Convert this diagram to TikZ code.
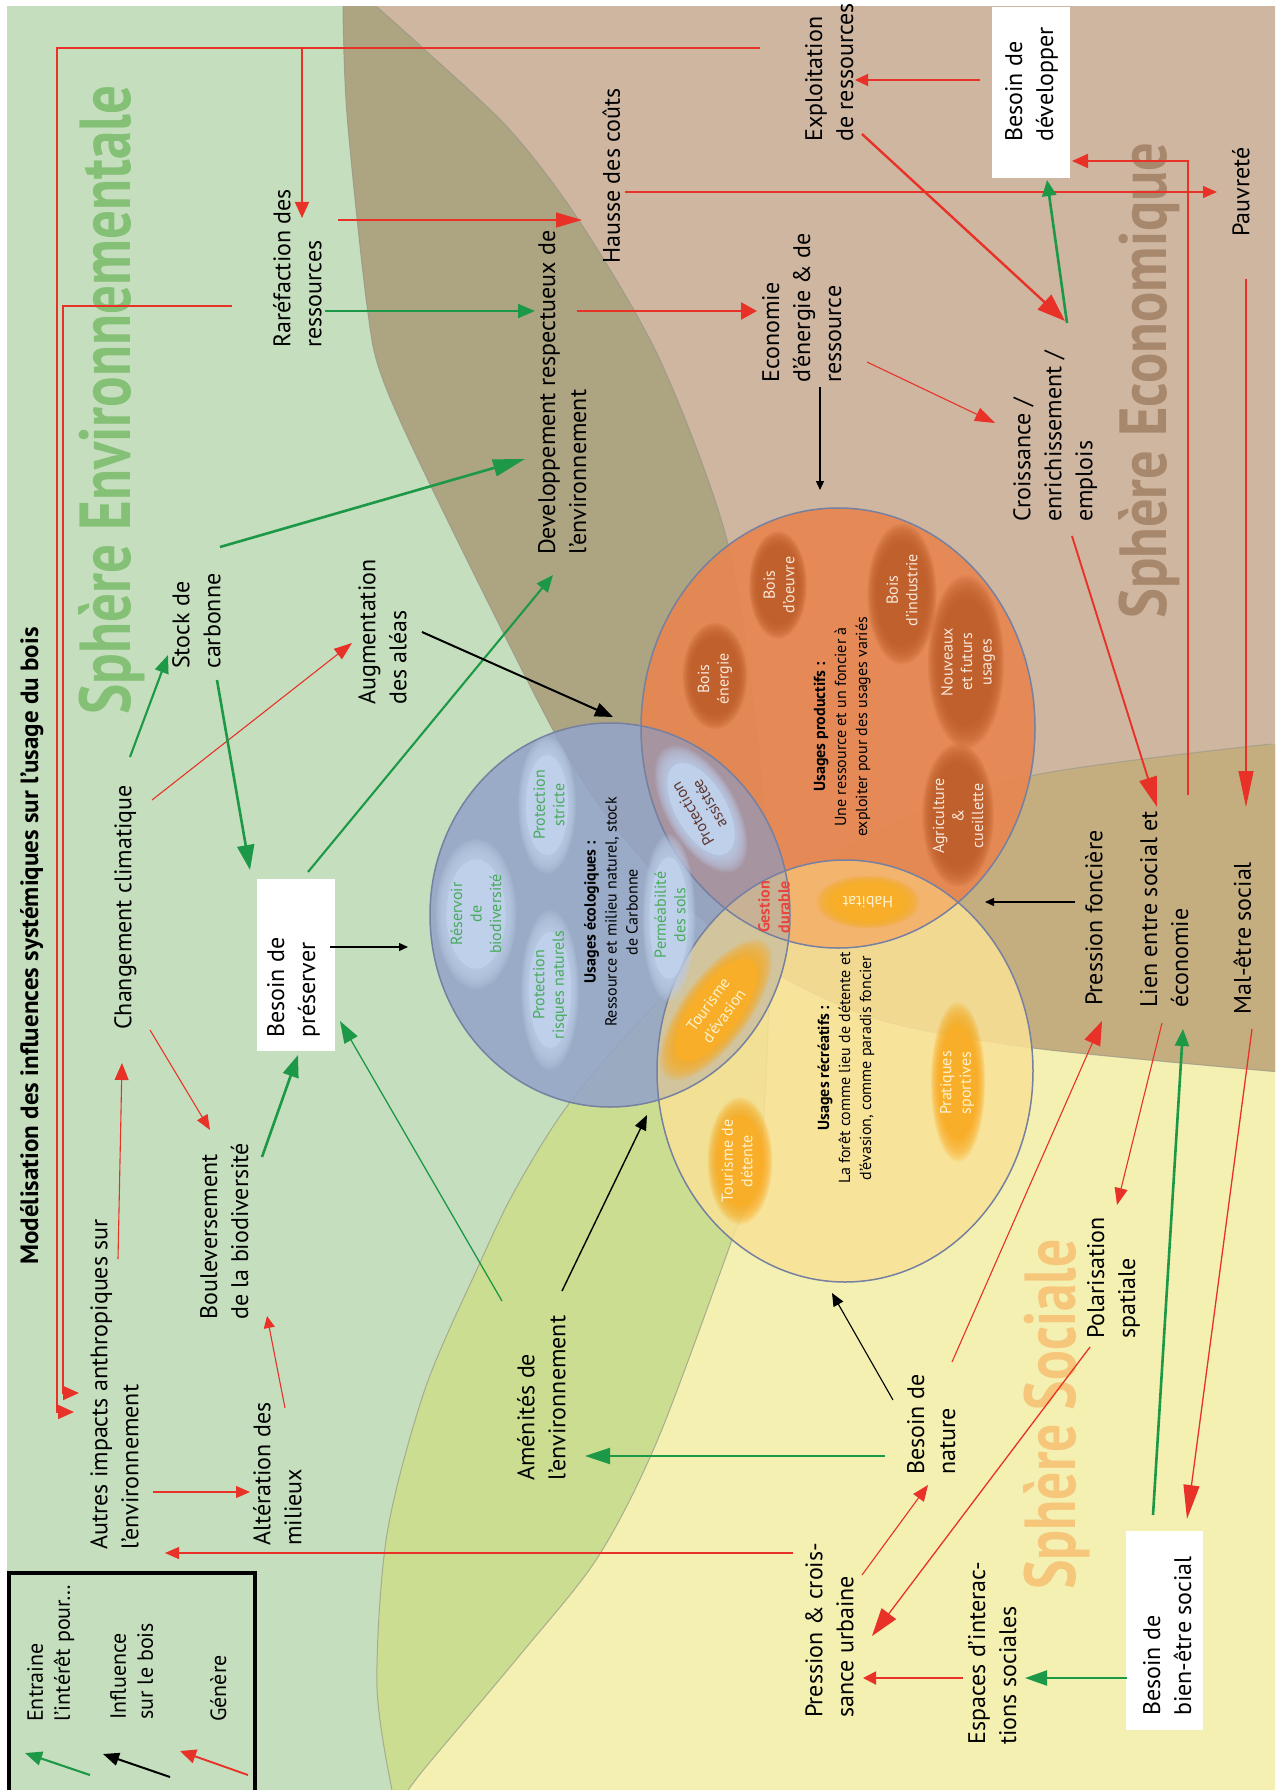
\documentclass[tikz,border=0pt]{standalone}
\usepackage{fontspec}
\usepackage{graphicx}
\setmainfont{PT Sans}
\usetikzlibrary{arrows.meta}
\definecolor{envC}{RGB}{197,223,190}
\definecolor{ecoC}{RGB}{206,182,160}
\definecolor{socC}{RGB}{243,240,178}
\definecolor{envEco}{RGB}{173,164,130}
\definecolor{envSoc}{RGB}{203,221,144}
\definecolor{ecoSoc}{RGB}{196,174,128}
\definecolor{triC}{RGB}{178,166,120}
\definecolor{bndC}{RGB}{150,150,135}
\definecolor{blueC}{RGB}{148,164,200}
\definecolor{orangeC}{RGB}{232,134,80}
\definecolor{yellowC}{RGB}{250,225,150}
\definecolor{lensBO}{RGB}{163,150,168}
\definecolor{lensBY}{RGB}{208,194,156}
\definecolor{lensOY}{RGB}{243,178,108}
\definecolor{lensBOY}{RGB}{200,178,150}
\definecolor{circEdge}{RGB}{118,128,160}
\definecolor{bblob}{RGB}{190,208,234}
\definecolor{oblob}{RGB}{192,96,44}
\definecolor{yblob}{RGB}{248,174,40}
\definecolor{greenT}{RGB}{72,170,92}
\definecolor{redC}{RGB}{232,50,40}
\definecolor{greenC}{RGB}{28,152,70}
\definecolor{envT}{RGB}{132,192,118}
\definecolor{ecoT}{RGB}{168,136,108}
\definecolor{socT}{RGB}{246,198,122}
\definecolor{oTxt}{RGB}{250,232,218}
\definecolor{yTxt}{RGB}{255,242,205}
\definecolor{paTxt}{RGB}{96,56,48}
\definecolor{gestT}{RGB}{232,70,60}

\newcommand\envpath{(-5,-5) -- (372,-5) -- plot[smooth] coordinates {(377,7) (425,50) (510,130) (580,222) (660,360) (727,540) (757,733) (770,930) (760,1160) (732,1240) (658,1439) (598,1557) (520,1655) (425,1768) (405,1795)} -- (-5,1800) -- cycle}
\newcommand\ecopath{(338,-5) -- plot[smooth] coordinates {(343,7) (347,115) (367,306) (383,380) (440,505) (553,730) (610,820) (680,900) (770,970) (880,1020) (1033,1048) (1280,1072)} -- (1280,-5) -- cycle}
\newcommand\socpath{(1280,744) -- plot[smooth] coordinates {(1271,744) (1030,776) (880,830) (750,915) (650,1010) (568,1105) (515,1190) (478,1267) (425,1389) (387,1534) (377,1687) (393,1795)} -- (1280,1795) -- cycle}

% soft-edged ellipse: x, y, length, thickness, angle, colour
\newcommand\blob[6]{%
  \begin{scope}[shift={(#1,#2)},rotate=#5]
  \foreach \bs in {1.16,1.14,...,0.84}{%
    \fill[#6,fill opacity=0.11] (0,0) ellipse [x radius={\bs*(#3)/2}, y radius={\bs*(#4)/2}];}
  \fill[#6] (0,0) ellipse [x radius={0.84*(#3)/2}, y radius={0.84*(#4)/2}];
  \end{scope}}

\tikzset{
  lab/.style={rotate=90, anchor=north west, inner sep=0pt, align=left, font=\fontsize{24}{31}\selectfont},
  leglab/.style={rotate=90, anchor=north west, inner sep=0pt, align=left, font=\fontsize{22}{27}\selectfont},
  ctxt/.style={rotate=90, anchor=center, inner sep=0pt, align=center, font=\fontsize{16}{21}\selectfont},
  btxt/.style={anchor=center, inner sep=0pt, align=center, font=\fontsize{16}{19.5}\selectfont},
  rA/.style={color=redC, line width=1.1pt, -{Triangle[length=15pt,width=12pt]}},
  rM/.style={color=redC, line width=1.9pt, -{Triangle[length=16pt,width=14pt]}},
  rB/.style={color=redC, line width=2.4pt, -{Triangle[length=24pt,width=18pt]}},
  gA/.style={color=greenC, line width=1.3pt, -{Triangle[length=18pt,width=13pt]}},
  gM/.style={color=greenC, line width=2.1pt, -{Triangle[length=17pt,width=14pt]}},
  gB/.style={color=greenC, line width=2.6pt, -{Triangle[length=24pt,width=17pt]}},
  kA/.style={color=black, line width=1.1pt, -{Triangle[length=9pt,width=8pt]}},
  kB/.style={color=black, line width=1.7pt, -{Triangle[length=16pt,width=13pt]}},
  hd/.style 2 args={-{Triangle[length=#1pt,width=#2pt]}},
  bnd/.style={bndC, line width=1pt, opacity=0.7}
}

\begin{document}
\begin{tikzpicture}[x=1pt,y=-1pt]
\useasboundingbox (0,0) rectangle (1275,1790);
\fill[white] (0,0) rectangle (1275,1790);

% ---------- spheres ----------
\begin{scope}
\clip (7,7) rectangle (1275,1790);
\fill[envC] \envpath;
\fill[ecoC] \ecopath;
\fill[socC] \socpath;
\begin{scope}\clip \envpath; \fill[envEco] \ecopath; \end{scope}
\begin{scope}\clip \envpath; \fill[envSoc] \socpath; \end{scope}
\begin{scope}\clip \ecopath; \fill[ecoSoc] \socpath; \end{scope}
\begin{scope}\clip \envpath; \clip \ecopath; \fill[triC] \socpath; \end{scope}
\draw[bnd] plot[smooth] coordinates {(377,7) (425,50) (510,130) (580,222) (660,360) (727,540) (757,733) (770,930) (760,1160) (732,1240) (658,1439) (598,1557) (520,1655) (425,1768) (405,1795)};
\draw[bnd] plot[smooth] coordinates {(343,7) (347,115) (367,306) (383,380) (440,505) (553,730) (610,820) (680,900) (770,970) (880,1020) (1033,1048) (1280,1072)};
\draw[bnd] plot[smooth] coordinates {(1271,744) (1030,776) (880,830) (750,915) (650,1010) (568,1105) (515,1190) (478,1267) (425,1389) (387,1534) (377,1687) (393,1795)};
\end{scope}

% ---------- sphere titles ----------
\node[rotate=90, anchor=base west, inner sep=0pt, text=envT] (sphenv) at (130,715) {\resizebox{629pt}{52pt}{\bfseries Sphère Environnementale}};
\node[rotate=90, anchor=base west, inner sep=0pt, text=ecoT] (spheco) at (1166,619) {\resizebox{476pt}{48pt}{\bfseries Sphère Economique}};
\node[rotate=90, anchor=base west, inner sep=0pt, text=socT] (sphsoc) at (1075,1590) {\resizebox{350pt}{52pt}{\bfseries Sphère Sociale}};

% ---------- circles ----------
\fill[blueC, fill opacity=0.88] (610,915) ellipse [x radius=180, y radius=192];
\fill[orangeC, fill opacity=0.9] (838,728) ellipse [x radius=197, y radius=220];
\fill[yellowC, fill opacity=0.85] (845,1071) ellipse [x radius=188, y radius=211];
\begin{scope}
\clip (610,915) ellipse [x radius=180, y radius=192];
\fill[lensBO, fill opacity=0.92] (838,728) ellipse [x radius=197, y radius=220];
\fill[lensBY, fill opacity=0.9] (845,1071) ellipse [x radius=188, y radius=211];
\end{scope}
\begin{scope}
\clip (838,728) ellipse [x radius=197, y radius=220];
\fill[lensOY, fill opacity=0.92] (845,1071) ellipse [x radius=188, y radius=211];
\clip (610,915) ellipse [x radius=180, y radius=192];
\fill[lensBOY] (845,1071) ellipse [x radius=188, y radius=211];
\end{scope}
\draw[circEdge, line width=1.5pt] (610,915) ellipse [x radius=180, y radius=192];
\draw[circEdge, line width=1.5pt] (838,728) ellipse [x radius=197, y radius=220];
\draw[circEdge, line width=1.5pt] (845,1071) ellipse [x radius=188, y radius=211];

% ---------- blobs ----------
\blob{476}{914}{130}{70}{90}{bblob}
\blob{547}{805}{119}{50}{90}{bblob}
\blob{550}{990}{138}{50}{90}{bblob}
\blob{669}{918}{145}{46}{90}{bblob}
\blob{701}{809}{122}{60}{120}{bblob}
\blob{716}{1010}{145}{58}{54}{yblob}
\blob{740}{1161}{110}{56}{90}{yblob}
\blob{958}{1082}{138}{47}{90}{yblob}
\blob{868}{902}{90}{46}{0}{yblob}
\blob{715}{676}{92}{56}{90}{oblob}
\blob{778}{585}{93}{50}{90}{oblob}
\blob{902}{594}{122}{60}{90}{oblob}
\blob{966}{662}{150}{66}{90}{oblob}
\blob{958}{815}{124}{62}{90}{oblob}

\node[btxt, rotate=90, text=greenT] (treserv) at (476,914) {Réservoir\\de\\biodiversité};
\node[btxt, rotate=90, text=greenT] (tpstr) at (549,805) {Protection\\stricte};
\node[btxt, rotate=90, text=greenT] (tprisq) at (550,985) {Protection\\risques naturels};
\node[btxt, rotate=90, text=greenT] (tperm) at (670,915) {Perméabilité\\des sols};
\node[btxt, rotate=120, text=paTxt] (tpassi) at (701,809) {Protection\\assistée};
\node[btxt, rotate=54, text=yTxt] (ttevas) at (716,1010) {Tourisme\\d’évasion};
\node[btxt, rotate=90, text=yTxt] (ttdet) at (737,1161) {Tourisme de\\détente};
\node[btxt, rotate=90, text=yTxt] (tprat) at (957,1083) {Pratiques\\sportives};
\node[btxt, rotate=180, text=yTxt] (thab) at (868,902) {Habitat};
\node[btxt, rotate=90, text=oTxt] (tbenerg) at (715,679) {Bois\\énergie};
\node[btxt, rotate=90, text=oTxt] (tboeuv) at (779,585) {Bois\\d’oeuvre};
\node[btxt, rotate=90, text=oTxt] (tbind) at (902,590) {Bois\\d’industrie};
\node[btxt, rotate=90, text=oTxt] (tnouv) at (968,662) {Nouveaux\\et futurs\\usages};
\node[btxt, rotate=90, text=oTxt] (tagri) at (958,816) {Agriculture\\\&\\cueillette};

\node[ctxt] (tecol) at (611,912) {\textbf{Usages écologiques :}\\Ressource et milieu naturel, stock\\de Carbonne};
\node[ctxt] (tprod) at (842,727) {\textbf{Usages productifs :}\\Une ressource et un foncier à\\exploiter pour des usages variés};
\node[ctxt] (trecr) at (846,1068) {\textbf{Usages récréatifs :}\\La forêt comme lieu de détente et\\d’évasion, comme paradis foncier};
\node[rotate=90, align=center, inner sep=0pt, font=\bfseries\fontsize{16}{20}\selectfont, text=gestT] (tgest) at (774,907) {Gestion\\durable};

% ---------- white boxes ----------
\fill[white] (257,879) rectangle (335,1051);
\fill[white] (992,7) rectangle (1070,178);
\fill[white] (1126,1531) rectangle (1203,1730);

% ---------- title ----------
\node[rotate=90, anchor=north west, inner sep=0pt, font=\bfseries\fontsize{25}{30}\selectfont] (title) at (20,1265) {Modélisation des influences systémiques sur l’usage du bois};

% ---------- labels ----------
\node[lab] (autres) at (90,1550) {Autres impacts anthropiques sur\\l’environnement};
\node[lab] (alter) at (253,1546) {Altération des\\milieux};
\node[lab] (boul) at (200,1320) {Bouleversement\\de la biodiversité};
\node[lab] (chgt) at (114,1030) {Changement climatique};
\node[lab] (stock) at (172,669) {Stock de\\carbonne};
\node[lab] (augm) at (358,705) {Augmentation\\des aléas};
\node[lab] (rare) at (273,348) {Raréfaction des\\ressources};
\node[lab] (devl) at (538,555) {Developpement respectueux de\\l’environnement};
\node[lab] (hausse) at (602,264) {Hausse des coûts};
\node[lab] (econ) at (762,383) {Economie\\d’énergie \& de\\ressource};
\node[lab] (exploit) at (805,142) {Exploitation\\de ressources};
\node[lab] (pauv) at (1232,237) {Pauvreté};
\node[lab] (crois) at (1013,522) {Croissance /\\enrichissement /\\emplois};
\node[lab] (pfonc) at (1085,1006) {Pression foncière};
\node[lab] (lien) at (1140,1008) {Lien entre social et\\économie};
\node[lab] (malet) at (1233,1015) {Mal-être social};
\node[lab] (polar) at (1087,1339) {Polarisation\\spatiale};
\node[lab] (bnat) at (907,1475) {Besoin de\\nature};
\node[lab] (amen) at (517,1481) {Aménités de\\l’environnement};
\node[lab] (purb) at (805,1718) {Pression \& crois-\\sance urbaine};
\node[lab] (espa) at (968,1745) {Espaces d’interac-\\tions sociales};
\node[lab] (bpres) at (267,1038) {Besoin de\\préserver};
\node[lab] (bdev) at (1005,142) {Besoin de\\développer};
\node[lab] (bbien) at (1143,1716) {Besoin de\\bien-être social};

% ---------- legend ----------
\draw[line width=4pt] (9,1573) rectangle (255,1800);
\node[leglab] (legg) at (27,1722) {Entraine\\l’intérêt pour…};
\node[leglab] (legk) at (110,1720) {Influence\\sur le bois};
\node[leglab] (legr) at (210,1722) {Génère};
\coordinate (lg1) at (90,1775); \coordinate (lg2) at (25,1753);
\coordinate (lk1) at (170,1777); \coordinate (lk2) at (103,1754);
\coordinate (lr1) at (248,1775); \coordinate (lr2) at (180,1751);
\draw[gM] (lg1) -- (lg2);
\draw[kB, line width=2pt] (lk1) -- (lk2);
\draw[rM] (lr1) -- (lr2);

% ---------- connector end points ----------
\coordinate (exA) at (760,48); \coordinate (k1) at (57,48); \coordinate (k2) at (57,1412); \coordinate (autIn1) at (74,1412);
\coordinate (brA) at (302,48); \coordinate (rarIn) at (302,218);
\coordinate (rarOutL) at (232,306); \coordinate (k3) at (63,306); \coordinate (k4) at (63,1393); \coordinate (autIn2) at (79,1393);
\coordinate (rarOutH) at (338,220); \coordinate (hauIn) at (582,220);
\coordinate (rarOutD) at (325,311); \coordinate (devIn1) at (535,311);
\coordinate (stoOutD) at (220,547); \coordinate (devIn2) at (525,459);
\coordinate (hauOut) at (625,192); \coordinate (pauIn) at (1217,192);
\coordinate (devOut) at (577,311); \coordinate (ecoIn) at (757,311);
\coordinate (ecoOutK) at (820,387); \coordinate (prodIn) at (820,490);
\coordinate (bprOutD) at (308,872); \coordinate (devIn3) at (553,575);
\coordinate (augOut) at (422,632); \coordinate (ecolIn1) at (613,717);
\coordinate (bdvOutE) at (980,80); \coordinate (expIn) at (855,80);
\coordinate (expOutC) at (862,134); \coordinate (croIn1) at (1065,321);
\coordinate (croOutB) at (1067,323); \coordinate (bdvIn1) at (1047,180);
\coordinate (ecoOutC) at (867,362); \coordinate (croIn2) at (995,423);
\coordinate (lienOutB) at (1188,795); \coordinate (k5) at (1188,161); \coordinate (bdvIn2) at (1072,161);
\coordinate (pauOut) at (1246,279); \coordinate (malIn) at (1246,807);
\coordinate (croOutL) at (1072,536); \coordinate (lienIn1) at (1157,807);
\coordinate (chgOutS) at (130,757); \coordinate (stoIn) at (168,655);
\coordinate (chgOutA) at (152,800); \coordinate (augIn) at (352,643);
\coordinate (stoOutB) at (217,680); \coordinate (bprIn1) at (250,870);
\coordinate (chgOutB) at (150,1030); \coordinate (bouIn1) at (210,1130);
\coordinate (autOutC) at (118,1259); \coordinate (chgIn) at (122,1063);
\coordinate (bouOut) at (262,1157); \coordinate (bprIn2) at (298,1055);
\coordinate (amOutB) at (502,1301); \coordinate (bprIn3) at (340,1021);
\coordinate (bprOutK) at (330,947); \coordinate (ecolIn2) at (408,947);
\coordinate (amOutK) at (562,1291); \coordinate (recrIn1) at (647,1115);
\coordinate (bnOutK) at (893,1400); \coordinate (recrIn2) at (832,1293);
\coordinate (pfOutK) at (1075,902); \coordinate (prodIn2) at (985,902);
\coordinate (bnOutA) at (885,1456); \coordinate (amIn) at (585,1456);
\coordinate (puOutA) at (793,1553); \coordinate (autIn3) at (165,1553);
\coordinate (puOutB) at (862,1575); \coordinate (bnIn) at (928,1485);
\coordinate (bnOutP) at (952,1362); \coordinate (pfIn) at (1102,1021);
\coordinate (lienOutP) at (1162,1023); \coordinate (polIn) at (1117,1205);
\coordinate (bbOutL) at (1153,1515); \coordinate (lienIn2) at (1183,1029);
\coordinate (malOut) at (1252,1029); \coordinate (bbIn) at (1187,1519);
\coordinate (polOut) at (1090,1347); \coordinate (puIn1) at (872,1636);
\coordinate (bbOutE) at (1127,1678); \coordinate (espIn) at (1025,1678);
\coordinate (espOut) at (963,1678); \coordinate (puIn2) at (863,1678);
\coordinate (autOutA) at (153,1492); \coordinate (altIn) at (250,1492);
\coordinate (altOut) at (285,1408); \coordinate (bouIn2) at (267,1316);

% ---------- connectors ----------
\draw[rM, line width=1.8pt] (exA) -- (k1) -- (k2) -- (autIn1);
\draw[rM, line width=1.8pt] (brA) -- (rarIn);
\draw[rM, line width=1.8pt] (rarOutL) -- (k3) -- (k4) -- (autIn2);
\draw[rA, hd={26}{15}] (rarOutH) -- (hauIn);
\draw[gM] (rarOutD) -- (devIn1);
\draw[gB, hd={32}{17}] (stoOutD) -- (devIn2);
\draw[rA, hd={14}{12}] (hauOut) -- (pauIn);
\draw[rB, hd={16}{17}] (devOut) -- (ecoIn);
\draw[kA] (ecoOutK) -- (prodIn);
\draw[gM] (bprOutD) -- (devIn3);
\draw[kB, line width=2pt, hd={18}{14}] (augOut) -- (ecolIn1);
\draw[rA, hd={13}{12}] (bdvOutE) -- (expIn);
\draw[rB, hd={28}{20}] (expOutC) -- (croIn1);
\draw[gB, hd={16}{14}] (croOutB) -- (bdvIn1);
\draw[rA, hd={20}{14}] (ecoOutC) -- (croIn2);
\draw[rM] (lienOutB) -- (k5) -- (bdvIn2);
\draw[rA, hd={36}{15}] (pauOut) -- (malIn);
\draw[rM, hd={30}{18}] (croOutL) -- (lienIn1);
\draw[gM, hd={18}{14}] (chgOutS) -- (stoIn);
\draw[rA, hd={18}{13}] (chgOutA) -- (augIn);
\draw[gB, hd={25}{17}] (stoOutB) -- (bprIn1);
\draw[rA, hd={15}{12}] (chgOutB) -- (bouIn1);
\draw[rA, hd={17}{14}] (autOutC) -- (chgIn);
\draw[gB, hd={22}{16}] (bouOut) -- (bprIn2);
\draw[gA, hd={22}{15}] (amOutB) -- (bprIn3);
\draw[kA] (bprOutK) -- (ecolIn2);
\draw[kB, line width=1.4pt, hd={15}{12}] (amOutK) -- (recrIn1);
\draw[kA, hd={13}{11}] (bnOutK) -- (recrIn2);
\draw[kA] (pfOutK) -- (prodIn2);
\draw[gB, line width=2.2pt, hd={25}{16}] (bnOutA) -- (amIn);
\draw[rA, hd={14}{12}] (puOutA) -- (autIn3);
\draw[rA, hd={16}{13}] (puOutB) -- (bnIn);
\draw[rA, hd={24}{17}] (bnOutP) -- (pfIn);
\draw[rA, hd={17}{13}] (lienOutP) -- (polIn);
\draw[gB, hd={17}{14}] (bbOutL) -- (lienIn2);
\draw[rA, line width=1.3pt, hd={34}{16}] (malOut) -- (bbIn);
\draw[rA, line width=1.3pt, hd={28}{18}] (polOut) -- (puIn1);
\draw[gM, hd={22}{15}] (bbOutE) -- (espIn);
\draw[rM, hd={13}{13}] (espOut) -- (puIn2);
\draw[rA, hd={14}{12}] (autOutA) -- (altIn);
\draw[rA, hd={12}{11}] (altOut) -- (bouIn2);
\end{tikzpicture}
\end{document}
